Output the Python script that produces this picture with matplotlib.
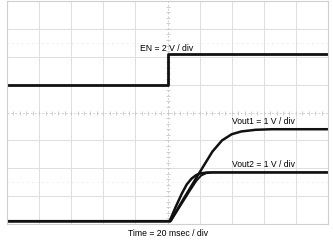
import matplotlib
matplotlib.use("Agg")
import matplotlib.pyplot as plt
import numpy as np

plt.rcParams['font.family'] = ['Liberation Sans', 'DejaVu Sans']

# scope settings
ms_per_div = 20
en_volts_per_div = 2
vout_volts_per_div = 1
en_offset = 5.0   # divisions from bottom
vout_offset = 0.1

# EN trace (ms, V)
en_t = [0, 100.3, 100.3, 200]
en_v = [0, 0, 2.2, 2.2]

# Vout1 (3.3 V rail)
vout1_t = [0, 101.8, 110, 120, 128, 134, 140, 146, 155, 165, 200]
vout1_v = [0, 0, 0.8, 1.75, 2.5, 2.9, 3.12, 3.22, 3.28, 3.3, 3.3]

# Vout2 (1.8 V rail), two overlapping captures
vout2_t = [0, 101.3, 105, 109, 112, 115, 118, 121, 125, 200]
vout2_v = [0, 0, 0.5, 1.0, 1.32, 1.53, 1.66, 1.72, 1.75, 1.75]
vout2b_t = [0, 102, 108, 114, 118, 121, 124, 128, 200]
vout2b_v = [0, 0, 0.55, 1.1, 1.45, 1.64, 1.72, 1.75, 1.75]

fig = plt.figure(figsize=(3.33, 2.5), dpi=100)
ax = fig.add_axes([7 / 333, 26 / 250, 321 / 333, 223 / 250])
ax.set_xlim(0, 10 * ms_per_div)
ax.set_ylim(0, 8)

grid_col = '#dedede'
for i in range(1, 10):
    if i != 5:
        ax.axvline(i * ms_per_div, color=grid_col, lw=0.7)
for j in range(1, 8):
    if j != 4:
        ax.axhline(j, color=grid_col, lw=0.7)

# center lines with minor ticks
ax.axhline(4, color='#d0d0d0', lw=0.7, ls=(0, (2, 2)))
ax.axvline(100, color='#d0d0d0', lw=0.7, ls=(0, (2, 2)))
xt = np.arange(0, 200.1, ms_per_div / 5)
ax.plot(xt, np.full_like(xt, 4.0), ls='none', marker='|', ms=2.5, color='#c8c8c8', mew=0.6)
yt = np.arange(0, 8.01, 0.2)
ax.plot(np.full_like(yt, 100.0), yt, ls='none', marker='_', ms=2.5, color='#c8c8c8', mew=0.6)

# cursor lines
for yc in (1.5, 6.5):
    ax.axhline(yc, color='#d8d8d8', lw=0.6, ls=(0, (1, 5)))

for s in ax.spines.values():
    s.set_color('#cfcfcf')
    s.set_linewidth(0.8)
ax.set_xticks([])
ax.set_yticks([])

trace = '#111111'
ax.plot(en_t, en_offset + np.array(en_v) / en_volts_per_div, color=trace, lw=2.0)
ax.plot(vout2b_t, vout_offset + np.array(vout2b_v) / vout_volts_per_div, color=trace, lw=1.4)
ax.plot(vout2_t, vout_offset + np.array(vout2_v) / vout_volts_per_div, color=trace, lw=1.8)
ax.plot(vout1_t, vout_offset + np.array(vout1_v) / vout_volts_per_div, color=trace, lw=1.8)

fs = 6.2
ax.text(99.7, 6.31, 'EN = 2 V / div', ha='center', va='center', fontsize=fs)
ax.text(160, 3.66, 'Vout1 = 1 V / div', ha='center', va='center', fontsize=fs)
ax.text(160, 2.15, 'Vout2 = 1 V / div', ha='center', va='center', fontsize=fs)
fig.text(168 / 333, 1 - 233 / 250, 'Time = 20 msec / div', ha='center', va='center', fontsize=fs)

fig.savefig('out.png', dpi=100)
